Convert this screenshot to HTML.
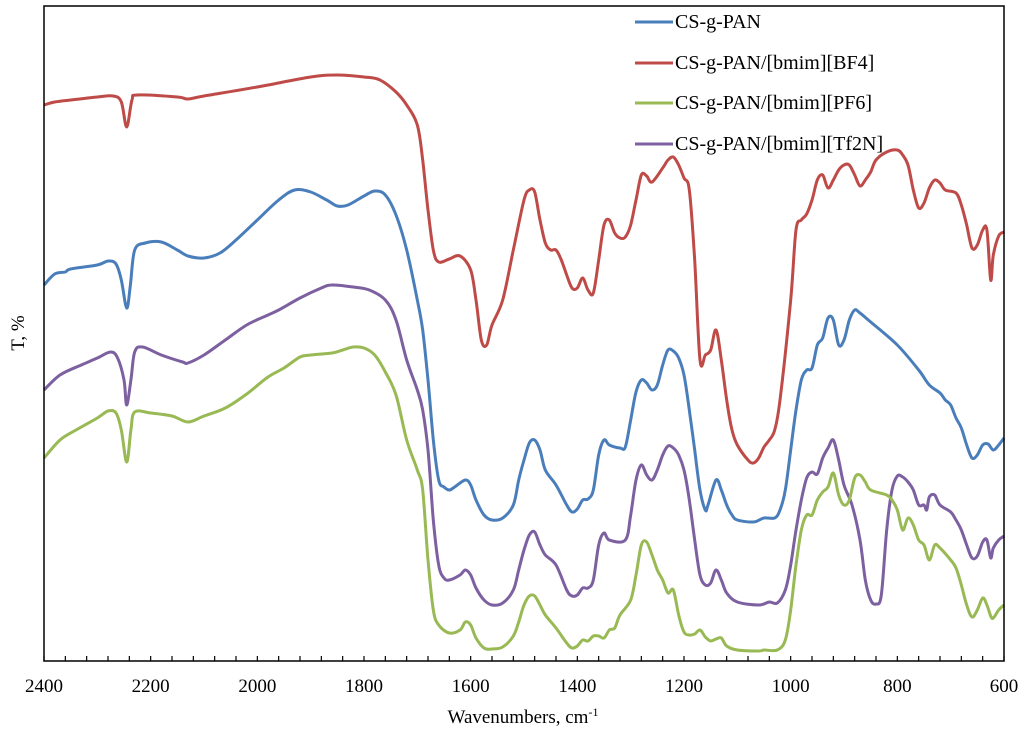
<!DOCTYPE html>
<html><head><meta charset="utf-8"><style>
body{margin:0;background:#fff;}
svg text{font-family:"Liberation Serif",serif;fill:#000;}
</style></head><body>
<svg id="chart" width="1024" height="731" xmlns="http://www.w3.org/2000/svg">
<rect x="0" y="0" width="1024" height="731" fill="#fff"/>
<g id="plot"></g>
<rect x="44" y="6" width="960" height="655" fill="none" stroke="#000" stroke-width="1.5"/>
<g id="xaxis"></g>
<text x="523" y="723" font-size="19" text-anchor="middle">Wavenumbers, cm<tspan font-size="12" dy="-7">-1</tspan></text>
<text x="0" y="0" font-size="19" text-anchor="middle" transform="translate(24,333) rotate(-90)">T, %</text>
<g id="legend"></g>
</svg>
<script>
const xTicks=[2400,2200,2000,1800,1600,1400,1200,1000,800,600];
const seriesNames=["CS-g-PAN","CS-g-PAN/[bmim][BF4]","CS-g-PAN/[bmim][PF6]","CS-g-PAN/[bmim][Tf2N]"];
const seriesColors=["#4a7ebb","#be4b48","#98b954","#7d60a0"];
const redWn=[2400,2380,2350,2300,2270,2255,2245,2235,2225,2150,2130,2100,2000,1900,1850,1800,1770,1740,1720,1700,1690,1680,1670,1660,1640,1620,1600,1590,1580,1570,1560,1540,1520,1500,1490,1480,1470,1460,1450,1440,1430,1420,1410,1400,1390,1380,1370,1360,1350,1340,1330,1320,1310,1300,1290,1280,1270,1260,1240,1230,1220,1210,1200,1190,1180,1170,1160,1150,1140,1130,1120,1110,1100,1080,1070,1060,1050,1040,1030,1020,1000,990,980,970,960,950,940,930,920,910,900,890,880,870,860,850,840,820,800,790,780,770,760,750,740,730,720,710,690,680,670,660,650,640,632,625,620,610,600];
const redT=[556,559,561,564,565,559,534,561,566,564,562,565,574,584,586,584,581,569,556,536,501,451,411,399,402,405,391,361,321,316,336,361,411,461,471,469,441,418,411,411,401,386,373,373,383,371,368,401,436,441,428,423,424,436,461,486,485,479,493,501,504,496,483,471,401,301,306,311,331,301,261,231,216,201,198,203,214,221,231,261,361,431,441,447,461,481,486,473,481,491,496,496,486,475,481,489,501,509,511,506,496,471,453,458,473,481,478,471,468,456,436,413,416,431,431,381,406,425,429];
const blueWn=[2400,2380,2360,2350,2300,2280,2265,2255,2245,2238,2230,2210,2180,2150,2130,2100,2070,2040,2000,1960,1930,1900,1870,1850,1830,1800,1780,1760,1740,1720,1700,1690,1680,1670,1660,1650,1640,1630,1610,1600,1590,1575,1560,1540,1520,1510,1500,1490,1480,1470,1460,1440,1420,1410,1400,1390,1380,1370,1360,1350,1340,1320,1310,1300,1290,1280,1270,1260,1250,1240,1230,1220,1210,1200,1190,1180,1170,1160,1155,1140,1130,1120,1110,1100,1070,1050,1030,1020,1010,1000,990,980,970,960,950,940,930,920,910,900,890,880,870,850,800,760,740,720,710,700,690,680,670,660,650,640,630,620,610,600];
const blueT=[376,387,389,392,396,400,397,381,353,376,411,418,419,411,405,403,408,421,441,461,471,469,461,455,456,465,470,466,446,411,361,331,281,221,181,174,171,174,181,176,161,146,141,143,156,181,201,218,221,211,191,176,156,149,152,161,162,171,206,221,216,213,214,241,269,281,278,271,276,296,311,310,303,286,251,211,171,151,156,181,171,156,146,141,139,143,143,151,171,211,251,281,291,293,316,323,343,341,316,321,341,351,348,339,316,291,276,268,261,256,243,233,216,203,206,216,217,211,216,223];
const purpleWn=[2400,2370,2330,2300,2275,2262,2250,2245,2237,2230,2215,2180,2140,2130,2100,2060,2020,1980,1960,1920,1880,1860,1820,1790,1760,1740,1720,1700,1690,1680,1670,1660,1650,1640,1620,1610,1600,1590,1575,1560,1540,1520,1510,1500,1490,1480,1470,1460,1440,1420,1410,1400,1390,1380,1370,1360,1350,1340,1310,1300,1290,1280,1270,1260,1250,1240,1230,1220,1210,1200,1190,1180,1170,1160,1150,1140,1130,1120,1100,1060,1040,1025,1010,1000,990,980,970,960,950,940,930,920,910,900,885,870,860,850,840,830,820,810,800,790,780,770,760,750,745,740,730,720,700,690,680,670,660,650,640,632,625,620,610,600];
const purpleT=[271,286,296,303,309,303,281,256,281,309,314,306,299,298,306,321,336,346,351,363,373,376,374,371,361,341,301,271,251,211,141,96,83,81,86,91,86,73,61,56,58,71,91,111,126,129,116,106,96,71,65,66,73,73,81,116,128,121,121,146,181,196,186,181,191,206,215,213,206,191,161,121,86,76,78,91,81,68,59,56,59,58,71,96,131,161,183,189,187,203,213,221,201,176,156,121,81,61,57,66,131,171,185,184,179,171,156,156,151,164,166,156,149,141,131,116,103,105,119,121,103,113,121,125];
const greenWn=[2400,2370,2340,2300,2280,2265,2255,2245,2237,2230,2200,2160,2130,2100,2060,2020,1980,1950,1920,1900,1860,1840,1820,1800,1780,1760,1740,1720,1700,1690,1680,1670,1660,1640,1620,1610,1600,1590,1575,1560,1540,1520,1510,1500,1490,1480,1470,1460,1440,1420,1410,1400,1390,1380,1370,1360,1350,1340,1330,1320,1300,1290,1280,1270,1260,1250,1240,1230,1220,1210,1200,1190,1180,1170,1160,1150,1140,1130,1120,1100,1060,1050,1025,1010,1000,990,980,970,960,950,940,930,920,910,900,890,880,870,860,850,820,810,800,790,780,770,760,750,740,730,720,700,690,680,670,660,650,640,632,625,620,610,600];
const greenT=[203,221,231,243,250,248,231,199,231,249,248,245,239,245,253,267,284,293,304,306,308,311,314,313,306,289,266,221,191,171,101,51,36,28,31,39,36,23,13,12,14,25,39,56,65,65,56,46,33,18,13,15,21,20,25,25,23,31,33,46,61,86,116,119,106,91,81,68,71,46,29,26,27,31,24,20,22,23,15,11,10,11,11,21,51,96,131,146,146,161,169,174,188,166,156,161,183,186,179,171,166,161,151,131,143,136,121,116,101,116,113,101,93,76,56,44,51,63,56,45,43,51,56];

const NS="http://www.w3.org/2000/svg";
const X0=44,X1=1004,Y0=661,Y1=6;
function xs(w){return X0+(2400-w)/(2400-600)*(X1-X0);}
function ys(t){return Y0-t;}
function path(wn,t){
  const p=wn.map((w,i)=>[xs(w),ys(t[i])]);
  let d="M"+p[0][0].toFixed(1)+","+p[0][1].toFixed(1);
  for(let i=0;i<p.length-1;i++){
    const a=p[Math.max(0,i-1)],b=p[i],c=p[i+1],e=p[Math.min(p.length-1,i+2)];
    const c1=[b[0]+(c[0]-a[0])/6,b[1]+(c[1]-a[1])/6],c2=[c[0]-(e[0]-b[0])/6,c[1]-(e[1]-b[1])/6];
    d+="C"+c1[0].toFixed(1)+","+c1[1].toFixed(1)+" "+c2[0].toFixed(1)+","+c2[1].toFixed(1)+" "+c[0].toFixed(1)+","+c[1].toFixed(1);
  }
  return d;
}
const plot=document.getElementById("plot");
const order=[[redWn,redT,1,"series-bf4"],[blueWn,blueT,0,"series-cs-g-pan"],[purpleWn,purpleT,3,"series-tf2n"],[greenWn,greenT,2,"series-pf6"]];
order.forEach(s=>{
  const el=document.createElementNS(NS,"path");
  el.setAttribute("d",path(s[0],s[1]));
  el.setAttribute("fill","none");
  el.setAttribute("stroke",seriesColors[s[2]]);
  el.setAttribute("stroke-width","3");
  el.setAttribute("stroke-linejoin","round");
  
  
  plot.appendChild(el);
});
const xa=document.getElementById("xaxis");
for(let w=2400;w>=600;w-=40){
  const t=document.createElementNS(NS,"line");
  t.setAttribute("x1",xs(w));t.setAttribute("x2",xs(w));
  t.setAttribute("y1",Y0);t.setAttribute("y2",Y0-5);
  t.setAttribute("stroke","#000");t.setAttribute("stroke-width","1.2");
  
  
  xa.appendChild(t);
}
xTicks.forEach(w=>{
  const tx=document.createElementNS(NS,"text");
  tx.setAttribute("x",xs(w));tx.setAttribute("y",692);
  tx.setAttribute("font-size","19");tx.setAttribute("text-anchor","middle");
  tx.textContent=w;
  
  
  xa.appendChild(tx);
});
const lg=document.getElementById("legend");
const legY=[22,63,103,144];
seriesNames.forEach((n,i)=>{
  const l=document.createElementNS(NS,"line");
  l.setAttribute("x1",635);l.setAttribute("x2",673);
  l.setAttribute("y1",legY[i]);l.setAttribute("y2",legY[i]);
  l.setAttribute("stroke",seriesColors[i]);l.setAttribute("stroke-width","3");
  
  
  lg.appendChild(l);
  const t=document.createElementNS(NS,"text");
  t.setAttribute("x",675);t.setAttribute("y",legY[i]+6);
  t.setAttribute("font-size","20");
  t.textContent=n;
  
  
  lg.appendChild(t);
});
</script>
</body></html>
